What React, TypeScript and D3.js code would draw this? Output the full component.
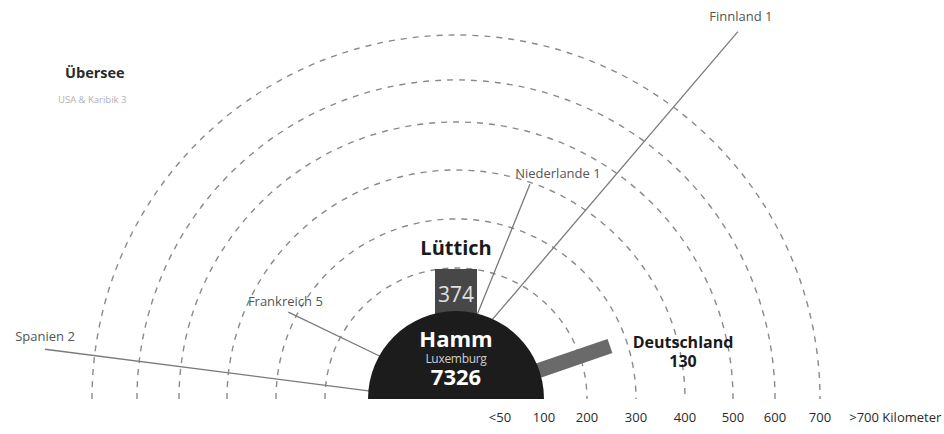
import React from 'react';
import * as d3 from 'd3';

// --- data ---
const ringKm = [200, 300, 400, 500, 600, 700];
const tickLabels = ['<50', '100', '200', '300', '400', '500', '600', '700', '>700 Kilometer'];
const tickKm = [50, 100, 200, 300, 400, 500, 600, 700, 765];
const scaleKm = [0, 100, 200, 300, 400, 500, 600, 700, 1000];
const scalePx = [0, 88, 131, 180, 229, 277, 319, 364, 499];

const hubName = 'Hamm';
const hubCity = 'Luxemburg';
const hubValue = 7326;

const luettichName = 'Lüttich';
const luettichValue = 374;

const deName = 'Deutschland';
const deValue = 130;
const deAngle = 19;
const deKm = 265;

const lineNames = ['Spanien 2', 'Frankreich 5', 'Niederlande 1', 'Finnland 1'];
const lineStartAngle = [174.8, 150.6, 76, 65.7];
const lineEndAngle = [173.1, 152.6, 71, 52.5];
const lineEndKm = [811, 318, 396, 920];
const labelDx = [0, -3, 28, 3];
const labelDy = [-8, -6, -6, -11];

const overseasTitle = 'Übersee';
const overseasLabel = 'USA & Karibik 3';

const W = 944;
const H = 434;
const cx = 456;
const cy = 399;
const FONT = '"Open Sans", "DejaVu Sans", sans-serif';

export default function App() {
  const r = d3.scaleLinear().domain(scaleKm).range(scalePx);
  const hubR = r(100);
  const pt = (deg: number, rad: number): [number, number] => {
    const a = (deg * Math.PI) / 180;
    return [cx + rad * Math.cos(a), cy - rad * Math.sin(a)];
  };

  const semi = (rad: number, close: boolean) => {
    const p = d3.path();
    p.moveTo(cx - rad, cy);
    p.arc(cx, cy, rad, Math.PI, 2 * Math.PI);
    if (close) p.closePath();
    return p.toString();
  };

  const barH = d3.scaleLinear().domain([0, luettichValue]).range([0, 42]);
  const deLen = r(deKm) - hubR;

  return (
    <svg width={W} height={H} style={{ position: 'absolute', left: 0, top: 0, background: '#fff' }} fontFamily={FONT}>
      {ringKm.map((k) => (
        <path key={k} d={semi(r(k), false)} fill="none" stroke="#8a8a8a" strokeWidth={1.4} strokeDasharray="6 6" />
      ))}

      {lineNames.map((n, i) => {
        const [x1, y1] = pt(lineStartAngle[i], hubR - 2);
        const [x2, y2] = pt(lineEndAngle[i], r(lineEndKm[i]));
        return (
          <g key={n}>
            <line x1={x1} y1={y1} x2={x2} y2={y2} stroke="#7a7a7a" strokeWidth={1.3} />
            <text x={x2 + labelDx[i]} y={y2 + labelDy[i]} textAnchor="middle" fontSize={13} fill="#555">
              {n}
            </text>
          </g>
        );
      })}

      {/* Lüttich bar */}
      <rect x={cx - 21} y={cy - hubR - barH(luettichValue)} width={42} height={barH(luettichValue) + 10} fill="#474747" />
      <text x={cx} y={cy - hubR - 9} textAnchor="middle" fontSize={21} fill="#e0e0e0">
        {luettichValue}
      </text>
      <text x={cx} y={cy - hubR - barH(luettichValue) - 14} textAnchor="middle" fontSize={20} fontWeight="bold" fill="#1a1a1a">
        {luettichName}
      </text>

      {/* Deutschland bar */}
      <g transform={`translate(${cx},${cy}) rotate(${-deAngle})`}>
        <rect x={hubR - 4} y={-7.5} width={deLen + 4} height={15} fill="#6a6a6a" />
      </g>
      <text x={683} y={348} textAnchor="middle" fontSize={16} fontWeight="bold" fill="#1a1a1a">
        {deName}
      </text>
      <text x={683} y={367} textAnchor="middle" fontSize={16} fontWeight="bold" fill="#1a1a1a">
        {deValue}
      </text>

      {/* hub */}
      <path d={semi(hubR, true)} fill="#1c1c1c" />
      <text x={cx} y={347} textAnchor="middle" fontSize={22} fontWeight="bold" fill="#fff">
        {hubName}
      </text>
      <text x={cx} y={363} textAnchor="middle" fontSize={12} fill="#cfcfcf" letterSpacing={-0.3}>
        {hubCity}
      </text>
      <text x={cx} y={385} textAnchor="middle" fontSize={22} fontWeight="bold" fill="#fff">
        {hubValue}
      </text>

      {/* overseas */}
      <text x={65} y={78} fontSize={14.5} fontWeight="bold" fill="#2a2a2a">
        {overseasTitle}
      </text>
      <text x={58} y={103} fontSize={9.5} fill="#b0b0b0">
        {overseasLabel}
      </text>

      {/* distance axis */}
      {tickLabels.map((t, i) => (
        <text
          key={t}
          x={cx + r(tickKm[i])}
          y={422}
          textAnchor={i === tickLabels.length - 1 ? 'start' : 'middle'}
          fontSize={13}
          fill="#2a2a2a"
        >
          {t}
        </text>
      ))}
    </svg>
  );
}
